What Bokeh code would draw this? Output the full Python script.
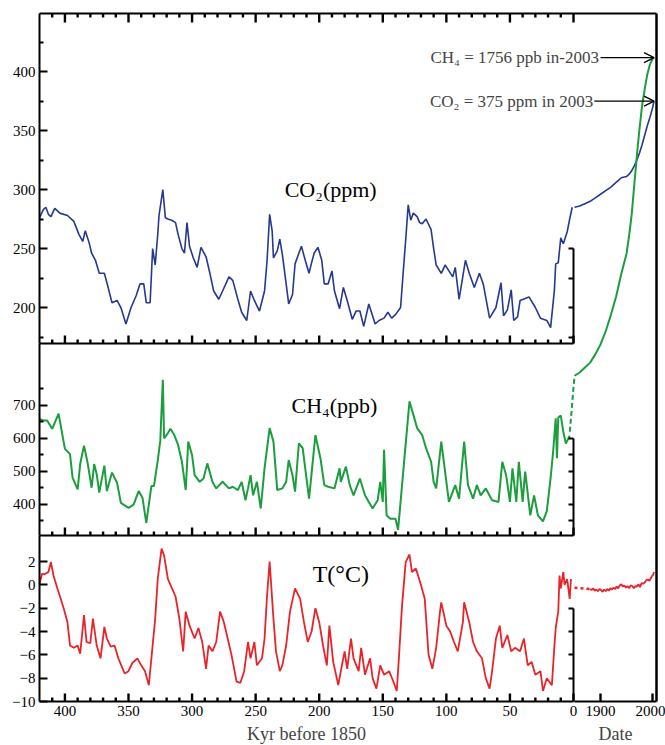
from bokeh.plotting import figure
from bokeh.models import Range1d, LinearAxis, FixedTicker, Label, Arrow, OpenHead
from bokeh.embed import file_html
from bokeh.resources import INLINE

FONT = "Liberation Serif"
BLUE = "#24398f"
GREEN = "#1c9e3e"
RED = "#e8232a"

# ---------------- data ----------------
co2_kyr = [420, 417, 415, 413, 411, 408, 404, 398, 393, 389, 386, 384, 381, 379, 376, 373, 369, 366, 363, 359,
           356, 352, 348, 344, 341, 338, 336, 333, 331, 329, 327, 326, 323, 321, 319, 316, 313, 311, 308, 306,
           304, 302, 299, 296, 293, 289, 286, 283, 279, 276, 271, 268, 264, 261, 257, 254, 251, 247, 243, 241,
           239, 237, 236, 233, 231, 229, 226, 224, 221, 219, 216, 214, 211, 208, 206, 204, 201, 198, 196, 193,
           190, 188, 184, 181, 178, 174, 171, 168, 165, 161, 156, 153, 149, 146, 143, 140, 136, 134, 132, 130,
           128, 126, 123, 121, 119, 116, 112, 110, 108, 104, 101, 98, 95, 93, 90, 88, 85, 82, 78, 74,
           71, 66, 61, 57, 55, 52, 49, 47, 44, 42, 35, 30, 26, 21, 18, 15, 14, 12, 10, 8,
           5, 3, 1]
co2_ppm = [276, 283, 285, 279, 277, 284, 280, 278, 273, 262, 256, 265, 255, 246, 240, 229, 229, 217, 204, 206,
           200, 186, 200, 210, 220, 220, 204, 204, 250, 236, 262, 278, 300, 276, 275, 274, 272, 262, 250, 246,
           272, 252, 242, 234, 251, 243, 229, 214, 207, 214, 226, 223, 207, 196, 189, 214, 206, 197, 214, 240,
           279, 265, 242, 248, 258, 245, 220, 203, 211, 237, 246, 252, 240, 229, 238, 246, 251, 240, 220, 220,
           231, 214, 199, 217, 206, 190, 197, 197, 184, 203, 186, 189, 191, 196, 191, 194, 200, 229, 257, 287,
           274, 280, 277, 272, 271, 275, 266, 250, 236, 229, 236, 231, 226, 234, 207, 220, 240, 229, 217, 229,
           220, 191, 200, 221, 193, 198, 215, 189, 192, 206, 209, 200, 191, 189, 183, 215, 237, 238, 259, 254,
           264, 275, 285]

ch4_kyr = [420, 417, 414, 410, 405, 400, 396, 394, 390, 388, 385, 382, 379, 377, 375, 373, 369, 367, 363, 359,
           356, 350, 346, 342, 339, 336, 332, 330, 327, 325, 323, 322, 319, 317, 314, 311, 308, 305, 303, 300,
           298, 294, 291, 288, 284, 281, 276, 271, 268, 264, 261, 258, 256, 254, 252, 249, 246, 243, 239, 236,
           233, 229, 226, 224, 221, 219, 216, 213, 211, 208, 203, 199, 196, 193, 188, 184, 183, 179, 176, 173,
           168, 164, 161, 158, 154, 152, 150, 149, 147, 144, 140, 138, 136, 133, 129, 126, 123, 119, 116, 112,
           110, 108, 104, 101, 98, 93, 90, 86, 83, 79, 76, 73, 69, 64, 59, 56, 53, 50, 48, 45,
           43, 40, 38, 34, 31, 28, 24, 21, 18, 16, 14, 13, 12, 10, 8, 6, 4, 3]
ch4_ppb = [659, 654, 654, 629, 675, 568, 552, 481, 445, 522, 578, 522, 450, 522, 491, 435, 517, 440, 496, 465,
           404, 389, 399, 440, 420, 343, 455, 455, 532, 593, 778, 600, 616, 629, 610, 580, 529, 443, 590, 549,
           488, 468, 478, 524, 468, 448, 468, 448, 453, 443, 468, 412, 448, 488, 427, 468, 387, 509, 631, 590,
           443, 448, 468, 534, 488, 438, 585, 570, 509, 417, 610, 539, 458, 453, 448, 509, 468, 514, 458, 427,
           478, 427, 407, 387, 412, 468, 407, 565, 366, 356, 356, 322, 407, 539, 712, 672, 631, 610, 570, 529,
           468, 448, 590, 499, 407, 458, 417, 590, 458, 417, 458, 427, 448, 412, 407, 529, 488, 407, 509, 407,
           529, 407, 499, 366, 427, 366, 348, 379, 480, 560, 661, 540, 663, 669, 620, 584, 600, 608]

t_kyr = [420, 418, 416, 413, 411, 409, 406, 403, 401, 398, 396, 393, 390, 388, 385, 383, 380, 378, 375, 372,
         369, 367, 364, 361, 358, 353, 350, 347, 343, 340, 337, 334, 332, 329, 327, 324, 322, 319, 317, 313,
         310, 307, 305, 302, 298, 295, 292, 289, 287, 284, 281, 278, 275, 272, 269, 265, 262, 259, 256, 254,
         251, 249, 245, 243, 241, 239, 236, 234, 231, 229, 226, 223, 219, 215, 212, 209, 206, 203, 200, 197,
         194, 192, 189, 185, 183, 180, 178, 175, 173, 169, 167, 164, 160, 158, 155, 152, 149, 145, 142, 139,
         137, 135, 132, 129, 127, 124, 120, 117, 114, 111, 108, 105, 104, 100, 97, 94, 91, 87, 86, 82,
         79, 76, 72, 69, 66, 64, 61, 58, 56, 52, 49, 46, 42, 39, 36, 33, 30, 26, 24, 21,
         17, 15, 14, 12, 11, 10, 8, 7, 5, 3, 2]
t_deg = [0.1, 0.95, 0.9, 1.1, 1.95, 0.8, -0.3, -1.3, -2.0, -3.2, -5.2, -5.4, -5.2, -5.9, -2.6, -4.9, -5.0, -2.9, -5.2, -6.3,
         -3.6, -4.6, -5.3, -5.2, -6.3, -7.6, -7.4, -6.7, -6.3, -6.9, -7.4, -8.6, -6.3, -2.9, 0.5, 3.1, 2.5, 0.5, 0.0, -1.0,
         -2.9, -5.7, -2.3, -3.5, -4.6, -3.7, -4.9, -7.2, -5.2, -5.7, -4.9, -2.3, -3.2, -4.6, -6.0, -8.3, -8.4, -7.4, -4.9, -6.3,
         -4.9, -6.9, -6.3, -4.6, -0.9, 2.0, -2.9, -5.7, -7.4, -6.9, -5.2, -2.3, -0.3, -1.2, -3.2, -4.9, -4.0, -2.0, -3.2, -5.2,
         -6.9, -3.5, -6.6, -8.6, -7.4, -5.7, -7.2, -4.6, -6.3, -7.4, -5.4, -7.7, -6.3, -8.0, -8.9, -6.9, -7.7, -7.4, -8.2, -9.1,
         -5.7, -2.0, 1.95, 2.6, 1.1, 1.4, 0.0, -1.2, -6.0, -7.2, -5.4, -2.3, -1.5, -3.5, -4.0, -4.9, -5.7, -3.2, -1.5, -3.2,
         -4.9, -5.7, -6.3, -8.0, -8.9, -7.4, -4.6, -3.5, -5.4, -4.3, -5.7, -5.4, -5.7, -4.6, -6.9, -6.6, -7.7, -7.4, -9.1, -8.0,
         -8.6, -5.2, -3.7, -2.3, 0.8, -0.3, 1.1, 0.0, 0.5, -1.2, 0.5]

co2_year = [1850, 1860, 1870, 1880, 1890, 1900, 1910, 1920, 1930, 1940, 1950, 1955, 1960, 1965, 1970, 1975,
            1980, 1985, 1990, 1995, 2000, 2003]
co2_modern = [285, 286, 288, 290, 293, 296, 299, 302, 306, 310, 311, 313, 316, 320, 325, 331,
              338, 346, 354, 361, 369, 375]

ch4_year = [1850, 1860, 1870, 1880, 1890, 1900, 1910, 1920, 1930, 1940, 1950, 1955, 1960, 1965, 1970, 1975,
            1980, 1985, 1990, 1995, 2000, 2003]
ch4_modern = [790, 800, 815, 830, 855, 885, 925, 975, 1030, 1100, 1160, 1215, 1280, 1370, 1460, 1540,
              1610, 1660, 1705, 1735, 1752, 1756]
ch4_link_year = [1841, 1850]
ch4_link = [620, 790]

t_early_year = [1850, 1880]
t_early = [-0.25, -0.35]
t_year = [1880, 1883, 1886, 1889, 1892, 1895, 1898, 1901, 1904, 1907, 1910, 1913, 1916, 1919, 1922, 1925,
          1928, 1931, 1934, 1937, 1940, 1943, 1946, 1949, 1952, 1955, 1958, 1961, 1964, 1967, 1970, 1973,
          1976, 1979, 1982, 1985, 1988, 1991, 1994, 1997, 1999, 2001, 2003]
t_modern = [-0.35, -0.45, -0.30, -0.50, -0.40, -0.55, -0.35, -0.45, -0.60, -0.40, -0.55, -0.35, -0.50, -0.30, -0.40, -0.25,
            -0.35, -0.15, -0.30, -0.05, 0.05, -0.15, -0.05, -0.25, -0.10, -0.30, -0.05, -0.10, -0.30, -0.10, -0.15, 0.05,
            -0.20, 0.15, 0.10, 0.20, 0.40, 0.45, 0.35, 0.60, 0.75, 0.85, 1.10]

kyr_ticks = [400, 350, 300, 250, 200, 150, 100, 50, 0]
kyr_minor = [410, 390, 380, 370, 360, 340, 330, 320, 310, 290, 280, 270, 260, 240, 230, 220, 210,
             190, 180, 170, 160, 140, 130, 120, 110, 90, 80, 70, 60, 40, 30, 20, 10]
date_ticks = [1900, 2000]
co2_ticks = [200, 250, 300, 350, 400]
co2_minor = [175, 225, 275, 325, 375, 425]
ch4_ticks = [400, 500, 600, 700]
ch4_minor = [350, 450, 550, 650, 750]
t_ticks = [-10, -8, -6, -4, -2, 0, 2]
co2_right_ticks = [175, 200, 225, 250]
ch4_right_ticks = [350, 400, 450, 500, 550, 600]
t_right_ticks = [-8, -6, -4, -2]

# ---------------- geometry ----------------
W, H = 665, 745
X_L, X_0, X_R = 39, 573, 656          # panel left edge, 0 kyr, right edge (px)
Y_TOP, Y_S1, Y_S2, Y_BOT = 13, 343, 535, 701
CO2_BAND = (169.5, 449.2)
CH4_BAND = (305.0, 888.0)
T_BAND = (-10.0, 4.23)


def lin_range(p0, v0, p1, v1, size):
    k = (v1 - v0) / (p1 - p0)
    return Range1d(v0 - p0 * k, v0 + (size - p0) * k)


def at(rng, px, size):
    return rng.start + px * (rng.end - rng.start) / size


x_kyr = lin_range(X_L, -420, X_0, 0, W)          # kyr shown as negative time, increasing to the right
x_date = lin_range(600, 1900, 652, 2000, W)
y_co2 = lin_range(H - Y_S1, CO2_BAND[0], H - Y_TOP, CO2_BAND[1], H)
y_ch4 = lin_range(H - Y_S2, CH4_BAND[0], H - Y_S1, CH4_BAND[1], H)
y_t = lin_range(H - Y_BOT, T_BAND[0], H - Y_S2, T_BAND[1], H)
KYR_RIGHT = at(x_kyr, X_R, W)
DATE_RIGHT = at(x_date, X_R, W)
CO2_PANEL_BOTTOM = at(y_co2, H - Y_BOT, H)

p = figure(width=W, height=H, output_backend="svg", toolbar_location=None,
           x_range=x_kyr, y_range=y_co2, x_axis_location=None, y_axis_location=None,
           min_border=0)
p.extra_x_ranges = {"date": x_date}
p.extra_y_ranges = {"ch4": y_ch4, "t": y_t}
p.grid.visible = False
p.outline_line_color = None
p.background_fill_color = "white"
p.border_fill_color = "white"

kyr_labels = {-k: str(k) for k in kyr_ticks}
neg_ticks = [-k for k in kyr_ticks]
neg_minor = [-k for k in kyr_minor]


def add_axis(side, ticks, minor, xr="default", yr="default", loc=None, bounds="auto",
             labels=True, maj=8, mnr=4, label=None, overrides=None, width=2):
    ax = LinearAxis(x_range_name=xr, y_range_name=yr,
                    ticker=FixedTicker(ticks=ticks, minor_ticks=minor),
                    fixed_location=loc, bounds=bounds)
    ax.major_tick_in = maj
    ax.major_tick_out = 0
    ax.minor_tick_in = mnr
    ax.minor_tick_out = 0
    ax.axis_line_width = width
    ax.major_tick_line_width = 2
    ax.minor_tick_line_width = 2
    ax.major_label_text_font = FONT
    ax.major_label_text_font_size = "15px"
    ax.major_label_text_color = "black" if labels else None
    ax.major_label_standoff = 4
    if "background_fill_color" in ax.properties():
        ax.background_fill_color = None
    if overrides:
        ax.major_label_overrides = overrides
    if label:
        ax.axis_label = label
        ax.axis_label_text_font = FONT
        ax.axis_label_text_font_size = "18px"
        ax.axis_label_text_font_style = "normal"
        ax.axis_label_standoff = 5
    p.add_layout(ax, side)
    return ax


RANGES = {"default": y_co2, "ch4": y_ch4, "t": y_t}


def tick_marks(xs, y, length_px, up, xr="default", yr="default"):
    # inward tick marks along a horizontal panel edge, length converted through the y scale
    rng = RANGES[yr]
    dy = length_px * (rng.end - rng.start) / H * (1 if up else -1)
    p.multi_line(xs=[[x, x] for x in xs], ys=[[y, y + dy] for _ in xs],
                 line_color="black", line_width=2.4, x_range_name=xr, y_range_name=yr)


# left axes
add_axis("left", co2_ticks, co2_minor, loc=-420, bounds=CO2_BAND)
add_axis("left", ch4_ticks, ch4_minor, yr="ch4", loc=-420, bounds=CH4_BAND)
add_axis("left", t_ticks, [], yr="t", loc=-420, bounds=T_BAND)
# top edge, right edge
add_axis("above", [], [], loc=CO2_BAND[1], bounds=(-420, KYR_RIGHT), labels=False, maj=0, mnr=0)
add_axis("right", [], [], loc=KYR_RIGHT, bounds=(CO2_PANEL_BOTTOM, CO2_BAND[1]), labels=False, width=2.5)
# panel separators
add_axis("below", [], [], loc=CO2_BAND[0], bounds=(-420, 0), labels=False, maj=0, mnr=0)
add_axis("below", [], [], yr="ch4", loc=CH4_BAND[0], bounds=(-420, 0), labels=False, maj=0, mnr=0)
# bottom axes
add_axis("below", neg_ticks, neg_minor, yr="t", loc=T_BAND[0], bounds=(-420, 0), maj=0, mnr=0,
         label="Kyr before 1850", overrides=kyr_labels)
add_axis("below", date_ticks, [], xr="date", yr="t", loc=T_BAND[0], bounds=(1850, DATE_RIGHT), maj=0,
         label="Date")
# short right-hand axes of the ice-core panels
add_axis("right", co2_right_ticks, [], loc=0, bounds=(CO2_BAND[0], 250), labels=False, maj=5)
add_axis("right", ch4_right_ticks, [], yr="ch4", loc=0, bounds=(CH4_BAND[0], 600), labels=False, maj=5)
add_axis("right", t_right_ticks, [], yr="t", loc=0, bounds=(T_BAND[0], -2), labels=False, maj=5)

# tick marks on the horizontal edges
tick_marks(neg_ticks, CO2_BAND[1], 9, up=False)
tick_marks(neg_minor, CO2_BAND[1], 4, up=False)
tick_marks(neg_ticks, CO2_BAND[0], 8, up=True)
tick_marks(neg_minor, CO2_BAND[0], 4, up=True)
tick_marks(neg_ticks, CH4_BAND[0], 8, up=True, yr="ch4")
tick_marks(neg_minor, CH4_BAND[0], 4, up=True, yr="ch4")
tick_marks(neg_ticks, T_BAND[0], 8, up=True, yr="t")
tick_marks(neg_minor, T_BAND[0], 4, up=True, yr="t")
tick_marks(date_ticks, T_BAND[0], 8, up=True, xr="date", yr="t")

# ice-core series (x = -kyr)
p.line([-k for k in co2_kyr], co2_ppm, color=BLUE, line_width=1.6)
p.line([-k for k in ch4_kyr], ch4_ppb, color=GREEN, line_width=2, y_range_name="ch4")
p.line([-k for k in t_kyr], t_deg, color=RED, line_width=1.8, y_range_name="t")

# instrumental era
p.line(co2_year, co2_modern, color=BLUE, line_width=1.6, x_range_name="date")
p.line(ch4_year, ch4_modern, color=GREEN, line_width=2, x_range_name="date", y_range_name="ch4")
p.line(ch4_link_year, ch4_link, color=GREEN, line_width=2, line_dash="5 3",
       x_range_name="date", y_range_name="ch4")
p.line(t_early_year, t_early, color=RED, line_width=2.5, line_dash="3 3",
       x_range_name="date", y_range_name="t")
p.line(t_year, t_modern, color=RED, line_width=1.8, x_range_name="date", y_range_name="t")

# panel titles
for txt, x, y, yr, fs in [("CO\u2082(ppm)", -191, 300, "default", "22px"),
                          ("CH\u2084(ppb)", -188, 700, "ch4", "22px"),
                          ("T(\u00b0C)", -183, 0.95, "t", "24px")]:
    p.add_layout(Label(x=x, y=y, y_range_name=yr, text=txt, text_font=FONT, text_font_size=fs,
                       text_align="center", text_baseline="middle", text_color="black"))

# 2003 annotations
p.add_layout(Label(x=1897, y=ch4_modern[-1], x_range_name="date", y_range_name="ch4",
                   text="CH\u2084 = 1756 ppb in-2003", text_font=FONT, text_font_size="17px",
                   text_align="right", text_baseline="middle"))
p.add_layout(Arrow(x_start=1900, y_start=ch4_modern[-1], x_end=ch4_year[-1], y_end=ch4_modern[-1],
                   x_range_name="date", y_range_name="ch4", line_width=1.3,
                   end=OpenHead(size=10, line_width=1.3)))
p.add_layout(Label(x=1886, y=co2_modern[-1], x_range_name="date",
                   text="CO\u2082 = 375 ppm in 2003", text_font=FONT, text_font_size="17px",
                   text_align="right", text_baseline="middle"))
p.add_layout(Arrow(x_start=1888, y_start=co2_modern[-1], x_end=co2_year[-1], y_end=co2_modern[-1],
                   x_range_name="date", line_width=1.3, end=OpenHead(size=10, line_width=1.3)))

open("out.html", "w").write(file_html(p, INLINE))
